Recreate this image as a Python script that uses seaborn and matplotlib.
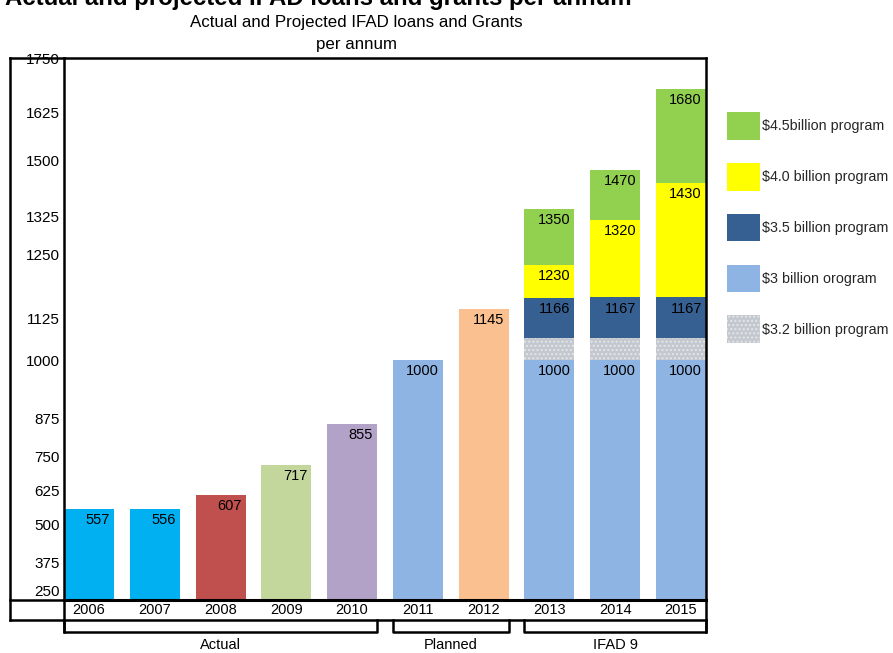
import numpy as np
import matplotlib
matplotlib.use("Agg")
import matplotlib.pyplot as plt
import matplotlib.transforms as mtransforms
from matplotlib.patches import Patch
from matplotlib.lines import Line2D
import seaborn as sns

# ---------------- data ----------------
years = ["2006", "2007", "2008", "2009", "2010", "2011", "2012", "2013", "2014", "2015"]
base_values = [557, 556, 607, 717, 855, 1000, 1145, 1000, 1000, 1000]
base_colors = ["#00B0F0", "#00B0F0", "#C0504D", "#C3D69B", "#B3A2C7",
               "#8EB4E3", "#FAC090", "#8EB4E3", "#8EB4E3", "#8EB4E3"]

ifad_years = ["2013", "2014", "2015"]
prog_32 = [1067, 1067, 1067]      # $3.2 billion programme (top of segment, unlabelled)
prog_35 = [1166, 1167, 1167]      # $3.5 billion programme
prog_40 = [1230, 1320, 1430]      # $4.0 billion programme
prog_45 = [1350, 1470, 1680]      # $4.5 billion programme

tick_values = [250, 375, 500, 625, 750, 875, 1000, 1125, 1250, 1325, 1500, 1625, 1750]

groups = ["Actual", "Planned", "IFAD 9"]
group_first = ["2006", "2011", "2013"]
group_last = ["2010", "2012", "2015"]

legend_labels = ["$4.5billion program", "$4.0 billion program", "$3.5 billion program",
                 "$3 billion orogram", "$3.2 billion program"]

# ---------------- style ----------------
sns.set_theme(style="white")
plt.rcParams["font.family"] = ["Liberation Sans", "DejaVu Sans"]
plt.rcParams["hatch.linewidth"] = 1.0

C45, C40, C35, C3, C32 = "#92D050", "#FFFF00", "#366092", "#8EB4E3", "#C3C7CE"
HATCH_EDGE = "#E4E6EA"
W = 0.76

fig = plt.figure(figsize=(8.93, 6.53), dpi=100)
ax = fig.add_axes([64 / 893, 53 / 653, 642 / 893, 542 / 653])

# stacked programme layers (drawn tallest first, each from the baseline)
for vals, col in [(prog_45, C45), (prog_40, C40), (prog_35, C35), (prog_32, C32)]:
    sns.barplot(x=ifad_years, y=vals, order=years, color=col, width=W,
                saturation=1, errorbar=None, linewidth=0, ax=ax)
for p in ax.containers[-1]:
    p.set_hatch("....")
    p.set_edgecolor(HATCH_EDGE)
    p.set_linewidth(0)

sns.barplot(x=years, y=base_values, order=years, hue=years,
            palette=dict(zip(years, base_colors)), legend=False, width=W,
            saturation=1, errorbar=None, linewidth=0, ax=ax)

# ---------------- irregular value axis (as drawn in the original) ----------------
axis_px = [600, 590, 562, 525, 490, 456, 418, 360, 319, 255, 217, 160, 113, 58]
axis_vals = [214] + tick_values
kv = np.array(axis_vals, dtype=float)
kf = (600 - np.array(axis_px, dtype=float)) / 542.0
lo_slope = (kf[1] - kf[0]) / (kv[1] - kv[0])
hi_slope = (kf[-1] - kf[-2]) / (kv[-1] - kv[-2])
kv = np.concatenate([[-1e5], kv, [1e5]])
kf = np.concatenate([[kf[0] - (kv[1] + 1e5) * lo_slope], kf,
                     [kf[-1] + (1e5 - kv[-2]) * hi_slope]])


def fwd(v):
    return np.interp(v, kv, kf)


def inv(f):
    return np.interp(f, kf, kv)


ax.set_yscale("function", functions=(fwd, inv))
ax.set_ylim(214, 1750)
ax.set_xlim(-W / 2, len(years) - 1 + W / 2)
ax.set_yticks(tick_values)
ax.set_yticklabels([str(t) for t in tick_values])
ax.minorticks_off()
ax.tick_params(axis="y", length=0, pad=3, labelsize=11, colors="black")
ax.tick_params(axis="x", length=0, pad=2, labelsize=10.5, colors="black")
ax.set_xlabel("")
ax.set_ylabel("")
for s in ["top", "left", "right", "bottom"]:
    ax.spines[s].set_color("black")
    ax.spines[s].set_linewidth(1.8)
ax.spines["bottom"].set_linewidth(2.2)

# ---------------- value labels ----------------
pos = {y: i for i, y in enumerate(years)}


def put_label(year, v):
    ax.annotate(str(v), xy=(pos[year] + W / 2, v), xytext=(-3, -8),
                textcoords="offset points", ha="right", va="center",
                fontsize=10.5, color="black")


for y, v in zip(years, base_values):
    put_label(y, v)
for vals in [prog_35, prog_40, prog_45]:
    for y, v in zip(ifad_years, vals):
        put_label(y, v)

# ---------------- table / brackets below ----------------
x_l = (10 - 64) / 642
y_row = (600 - 620) / 542
y_br = (600 - 632) / 542
y_lab = (600 - 645) / 542
lk = dict(color="black", linewidth=1.8, clip_on=False, solid_capstyle="projecting")
ta = ax.transAxes
for xs, ys in [([x_l, 0], [1, 1]), ([x_l, x_l], [1, y_row]), ([x_l, 0], [0, 0]),
               ([x_l, 1], [y_row, y_row]), ([0, 0], [0, y_br]), ([1, 1], [0, y_br])]:
    ax.add_line(Line2D(xs, ys, transform=ta, **lk))

bt = mtransforms.blended_transform_factory(ax.transData, ax.transAxes)
for g, a, b in zip(groups, group_first, group_last):
    x0 = pos[a] - W / 2
    x1 = pos[b] + W / 2
    ax.add_line(Line2D([x0, x0, x1, x1], [y_row, y_br, y_br, y_row], transform=bt, **lk))
    ax.text((x0 + x1) / 2, y_lab, g, transform=bt, ha="center", va="center",
            fontsize=10.5, color="black")

# ---------------- titles ----------------
fig.text(5 / 893, 1 - 5 / 653, "Actual and projected IFAD loans and grants per annum",
         fontsize=17.3, fontweight="bold", ha="left", va="baseline", color="black")
fig.text(356 / 893, 1 - 22 / 653, "Actual and Projected IFAD loans and Grants",
         fontsize=12.2, ha="center", va="center", color="black")
fig.text(356 / 893, 1 - 44 / 653, "per annum",
         fontsize=12.2, ha="center", va="center", color="black")

# ---------------- legend ----------------
handles = [Patch(facecolor=C45, linewidth=0), Patch(facecolor=C40, linewidth=0),
           Patch(facecolor=C35, linewidth=0), Patch(facecolor=C3, linewidth=0),
           Patch(facecolor=C32, edgecolor=HATCH_EDGE, hatch="....", linewidth=0)]
ax.legend(handles, [l.replace("$", r"\$") for l in legend_labels],
          loc="upper left", bbox_to_anchor=(727 / 893, 1 - 112 / 653),
          bbox_transform=fig.transFigure, frameon=False, borderpad=0,
          borderaxespad=0, handlelength=2.3, handleheight=2.6,
          handletextpad=0.15, labelspacing=1.62, fontsize=10.3)

fig.savefig("out.png", dpi=100)
